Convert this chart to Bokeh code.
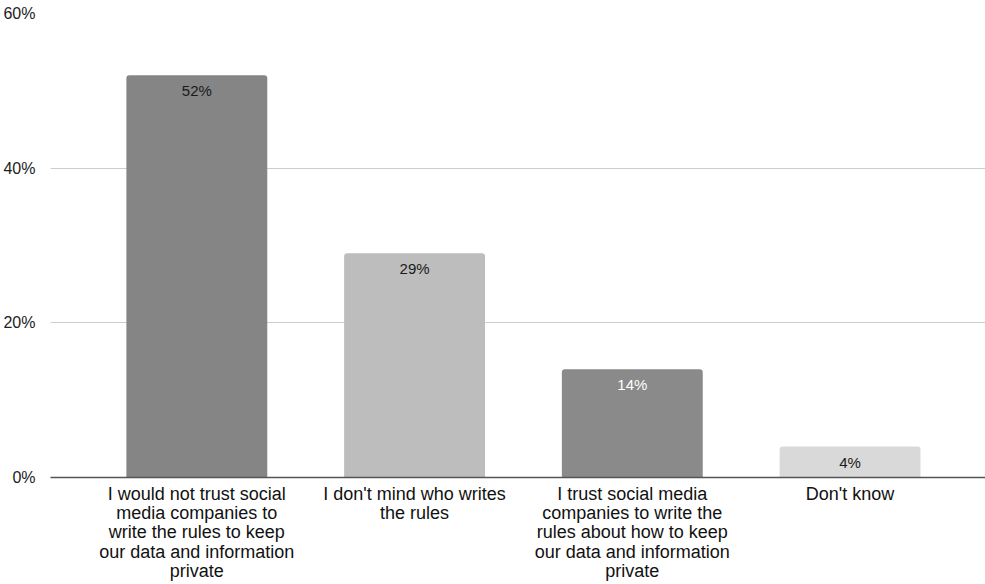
from bokeh.plotting import figure
from bokeh.models import ColumnDataSource, Range1d, FixedTicker
from bokeh.core.properties import value
from bokeh.embed import file_html
from bokeh.resources import INLINE

categories = [
    "I would not trust social\nmedia companies to\nwrite the rules to keep\nour data and information\nprivate",
    "I don't mind who writes\nthe rules",
    "I trust social media\ncompanies to write the\nrules about how to keep\nour data and information\nprivate",
    "Don't know",
]
values = [52, 29, 14, 4]
labels = ["52%", "29%", "14%", "4%"]
bar_colors = ["#858585", "#bdbdbd", "#8a8a8a", "#d9d9d9"]
label_colors = ["#1a1a1a", "#1a1a1a", "#ffffff", "#1a1a1a"]
y_ticks = [0, 20, 40, 60]

FONT = "Liberation Sans"

idx = list(range(len(categories)))
src = ColumnDataSource(dict(x=idx, top=values, color=bar_colors, label=labels, lcolor=label_colors))

p = figure(width=985, height=584, output_backend="svg", toolbar_location=None,
           x_range=Range1d(-0.672, 3.622), y_range=Range1d(0, 60),
           min_border_left=49, min_border_right=0, min_border_top=13, min_border_bottom=107)
p.outline_line_color = None
p.background_fill_color = "white"
p.border_fill_color = "white"

p.vbar(x="x", top="top", bottom=0, width=0.647, fill_color="color", line_color=None,
       source=src, border_radius=(3, 3, 0, 0))
p.text(x="x", y="top", text="label", text_color="lcolor", source=src,
       text_align="center", text_baseline="top", y_offset=7,
       text_font=value(FONT), text_font_size="15px")

p.xgrid.grid_line_color = None
p.ygrid.grid_line_color = "#cccccc"
p.ygrid.grid_line_width = 1
p.ygrid.ticker = FixedTicker(ticks=y_ticks)

p.yaxis.ticker = FixedTicker(ticks=y_ticks)
p.yaxis.major_label_overrides = {t: f"{t}%" for t in y_ticks}
p.yaxis.axis_line_color = None
p.yaxis.major_tick_line_color = None
p.yaxis.minor_tick_line_color = None
p.yaxis.major_label_standoff = 9
p.yaxis.major_label_text_font = FONT
p.yaxis.major_label_text_font_size = "16px"
p.yaxis.major_label_text_color = "#222222"

p.xaxis.ticker = FixedTicker(ticks=idx)
p.xaxis.major_label_overrides = {i: c for i, c in zip(idx, categories)}
p.xaxis.axis_line_color = "#555555"
p.xaxis.axis_line_width = 1.5
p.xaxis.major_tick_line_color = None
p.xaxis.major_tick_out = 0
p.xaxis.major_tick_in = 0
p.xaxis.minor_tick_line_color = None
p.xaxis.minor_tick_out = 0
p.xaxis.major_label_standoff = 6
p.xaxis.major_label_text_font = FONT
p.xaxis.major_label_text_font_size = "18px"
p.xaxis.major_label_text_color = "#111111"
p.xaxis.major_label_text_line_height = 0.97

open("out.html", "w").write(file_html(p, INLINE))
